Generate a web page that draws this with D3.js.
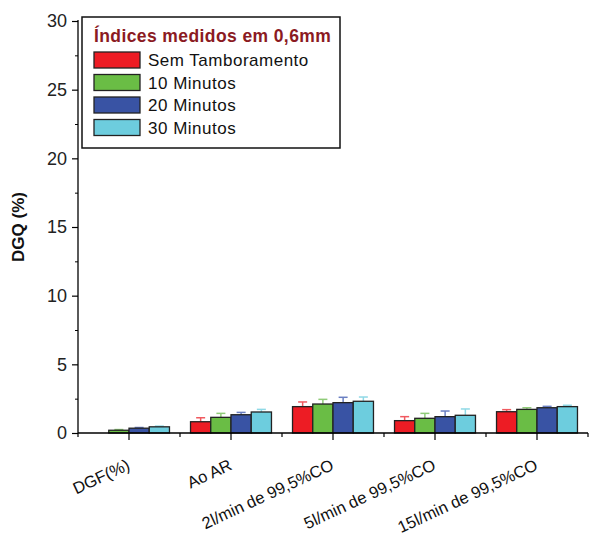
<!DOCTYPE html>
<html>
<head>
<meta charset="utf-8">
<script src="https://cdn.jsdelivr.net/npm/d3@7"></script>
<style>
  body { margin: 0; background: #fff; }
  svg { font-family: "Liberation Sans", Arial, sans-serif; }
</style>
</head>
<body>
<div id="chart"></div>
<script>
const width = 592, height = 537;

// data
const categories = ["DGF(%)", "Ao AR", "2l/min de 99,5%CO", "5l/min de 99,5%CO", "15l/min de 99,5%CO"];
const series = ["Sem Tamboramento", "10 Minutos", "20 Minutos", "30 Minutos"];
const semTamb = [0, 0.82, 1.92, 0.90, 1.55];
const min10 = [0.20, 1.14, 2.11, 1.07, 1.72];
const min20 = [0.35, 1.33, 2.21, 1.19, 1.84];
const min30 = [0.45, 1.53, 2.31, 1.29, 1.92];
const errSem = [0, 0.29, 0.34, 0.29, 0.15];
const err10 = [0.05, 0.29, 0.34, 0.36, 0.12];
const err20 = [0.05, 0.17, 0.39, 0.41, 0.10];
const err30 = [0.05, 0.19, 0.31, 0.46, 0.10];
const yTicks = [0, 5, 10, 15, 20, 25, 30];

const fills = ["#ed1c24", "#6abd45", "#3953a4", "#6dcdde"];
const errColors = ["#f05a60", "#8fcb78", "#6a7fc2", "#8fd9e6"];

const values = [semTamb, min10, min20, min30];
const errors = [errSem, err10, err20, err30];

const svg = d3.select("#chart").append("svg")
    .attr("width", width)
    .attr("height", height);

const x = d3.scaleBand(categories, [78, 588]);
const xs = d3.scaleBand(series, [0, x.bandwidth()]).paddingOuter(0.52);
const y = d3.scaleLinear([0, 30], [433, 21]);

// bars
const rows = [];
categories.forEach((c, i) => {
    series.forEach((s, j) => {
        rows.push({cat: c, s: s, j: j, v: values[j][i], e: errors[j][i]});
    });
});

const g = svg.append("g");

// error bars (upper only), drawn under bar outlines
const eb = g.selectAll(".err").data(rows.filter(d => d.v > 0)).join("g")
    .attr("stroke", d => errColors[d.j])
    .attr("stroke-width", 1.5);
eb.append("line")
    .attr("x1", d => x(d.cat) + xs(d.s) + xs.bandwidth() / 2)
    .attr("x2", d => x(d.cat) + xs(d.s) + xs.bandwidth() / 2)
    .attr("y1", d => y(d.v))
    .attr("y2", d => y(d.v + d.e));
eb.append("line")
    .attr("x1", d => x(d.cat) + xs(d.s) + xs.bandwidth() / 2 - 4.5)
    .attr("x2", d => x(d.cat) + xs(d.s) + xs.bandwidth() / 2 + 4.5)
    .attr("y1", d => y(d.v + d.e))
    .attr("y2", d => y(d.v + d.e));

g.selectAll("rect.bar").data(rows.filter(d => d.v > 0)).join("rect")
    .attr("class", "bar")
    .attr("x", d => x(d.cat) + xs(d.s))
    .attr("y", d => y(d.v))
    .attr("width", xs.bandwidth())
    .attr("height", d => y(0) - y(d.v))
    .attr("fill", d => fills[d.j])
    .attr("stroke", "#222")
    .attr("stroke-width", 1.3);

// y axis
const yAxis = svg.append("g")
    .attr("transform", "translate(78,0)")
    .call(d3.axisLeft(y).tickValues(yTicks).tickSize(6).tickPadding(5));
yAxis.select(".domain").attr("d", `M0,${y(30) - 1}V${y(0)}`).attr("stroke-width", 1.3);
yAxis.selectAll(".tick line").attr("stroke-width", 1.2);
yAxis.selectAll("text").attr("font-size", 18).attr("fill", "#222")
    .attr("font-family", "Liberation Sans, Arial, sans-serif");

const yMinor = svg.append("g")
    .attr("transform", "translate(78,0)")
    .call(d3.axisLeft(y).tickValues([2.5, 7.5, 12.5, 17.5, 22.5, 27.5]).tickSize(3).tickFormat(""));
yMinor.select(".domain").remove();

svg.append("text")
    .attr("transform", `translate(24,${(y(0) + y(30)) / 2}) rotate(-90)`)
    .attr("text-anchor", "middle")
    .attr("font-size", 17)
    .attr("font-weight", "bold")
    .attr("fill", "#111")
    .text("DGQ (%)");

// x axis
const xAxis = svg.append("g")
    .attr("transform", `translate(0,${y(0)})`)
    .call(d3.axisBottom(x).tickSize(7).tickFormat(""));
xAxis.select(".domain").attr("d", `M78,0H588`).attr("stroke-width", 1.3);
xAxis.selectAll(".tick line").attr("stroke-width", 1.2);

const bounds = categories.map(c => x(c)).concat([x.range()[1]]);
svg.append("g").selectAll("line").data(bounds).join("line")
    .attr("x1", d => d).attr("x2", d => d)
    .attr("y1", y(0)).attr("y2", y(0) + 4)
    .attr("stroke", "#000").attr("stroke-width", 1.2);

svg.append("g").selectAll("text").data(categories).join("text")
    .attr("transform", d => `translate(${x(d) + x.bandwidth() / 2 + 2},${y(0) + 36}) rotate(-25)`)
    .attr("text-anchor", "end")
    .attr("font-size", 16.5)
    .attr("fill", "#111")
    .text(d => d);

// legend
const lg = svg.append("g").attr("transform", "translate(82,17)");
lg.append("rect")
    .attr("width", 258).attr("height", 131)
    .attr("fill", "#fff").attr("stroke", "#111").attr("stroke-width", 1.5);
lg.append("text")
    .attr("x", 12).attr("y", 25)
    .attr("font-size", 17.5)
    .attr("font-weight", "bold")
    .attr("letter-spacing", 0.4)
    .attr("fill", "#8b1a22")
    .text("Índices medidos em 0,6mm");
const item = lg.selectAll(".item").data(series).join("g")
    .attr("transform", (d, i) => `translate(12,${35 + i * 22.5})`);
item.append("rect")
    .attr("width", 46).attr("height", 16)
    .attr("fill", (d, i) => fills[i])
    .attr("stroke", "#222").attr("stroke-width", 1.3);
item.append("text")
    .attr("x", 54).attr("y", 14)
    .attr("font-size", 17)
    .attr("letter-spacing", 0.5)
    .attr("fill", "#111")
    .text(d => d);
</script>
</body>
</html>
